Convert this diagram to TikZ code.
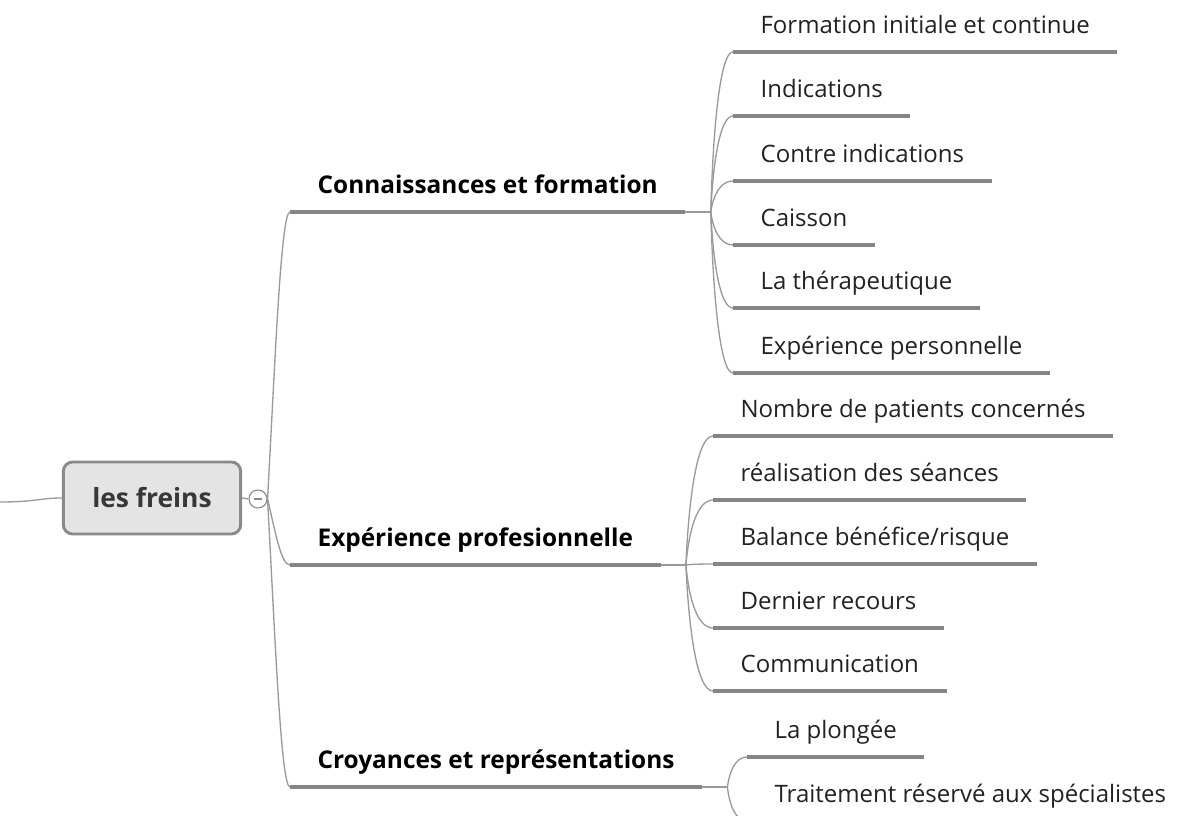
\documentclass[tikz,border=0pt]{standalone}
\usepackage{fontspec}
\setmainfont{Open Sans}
\usetikzlibrary{calc,positioning}
\definecolor{linegray}{HTML}{858585}
\definecolor{thingray}{HTML}{9A9A9A}
\definecolor{rootfill}{HTML}{E4E4E4}
\definecolor{rootdraw}{HTML}{8A8A8A}
\definecolor{inkgray}{HTML}{222222}
\tikzset{
  topic/.style={anchor=south west, inner xsep=20.5pt, inner ysep=13.5pt, text depth=0pt,
    text=inkgray, font=\fontsize{18}{20}\selectfont},
  branch/.style={topic, text=black, font=\fontsize{18.3}{20}\selectfont\bfseries},
  ul/.style={draw=linegray, line width=3.5pt},
  con/.style={draw=thingray, line width=1pt},
  % #1, #2: share of the x step taken by the two control points
  forkcurve/.style 2 args={to path={let \p1=(\tikztostart), \p2=(\tikztotarget) in
    .. controls ({(1-#1)*\x1+#1*\x2}, 0.5*\y1+0.5*\y2) and ({(1-#2)*\x1+#2*\x2}, \y2) .. (\tikztotarget)}}
}
\begin{document}
\begin{tikzpicture}[x=0.75pt,y=-0.75pt]
  \clip (0,0) rectangle (1201,816);
  \fill[white] (0,0) rectangle (1201,816);
  % root and fold button
  \node[draw=rootdraw, fill=rootfill, line width=2.2pt, rounded corners=7pt,
        minimum width=133pt, minimum height=54pt, text=inkgray!90,
        font=\fontsize{19.8}{22}\selectfont\bfseries] (root) at (152,498) {les freins};
  \coordinate (in) at (0,502);
  \draw[con] (in) .. controls (35,502) and (40,498) .. (root.west);
  \node[draw=rootdraw, fill=white, circle, line width=0.8pt, minimum size=13.5pt, inner sep=0pt] (fold) at (258,499) {};
  \draw[rootdraw, line width=0.8pt] ([xshift=-3pt]fold.center) -- ([xshift=3pt]fold.center);
  \draw[con] (root.east) -- (fold.west);

  % main branches
  \node[branch] (b1) at (290,212) {Connaissances et formation};
  \node[branch] (b2) at (290,565) {Expérience profesionnelle};
  \node[branch] (b3) at (290,787) {Croyances et représentations};
  \foreach \br in {b1,b2,b3}
    \draw[con] (fold.east) to[forkcurve={0.35}{0.6}] (\br.south west);

  % Connaissances et formation
  \node[topic] (c1) at (733,52) {Formation initiale et continue};
  \node[topic] (c2) at (733,116) {Indications};
  \node[topic] (c3) at (733,181) {Contre indications};
  \node[topic] (c4) at (733,245) {Caisson};
  \node[topic] (c5) at (733,308) {La thérapeutique};
  \node[topic] (c6) at (733,373) {Expérience personnelle};
  \coordinate (k1) at ([xshift=19pt]b1.south east);
  \draw[con] (b1.south east) -- (k1);
  \foreach \leaf in {c1,c2,c3,c4,c5,c6}
    \draw[con] (k1) to[forkcurve={0.1}{0.4}] (\leaf.south west);

  % Expérience profesionnelle
  \node[topic] (e1) at (713,436) {Nombre de patients concernés};
  \node[topic] (e2) at (713,500) {réalisation des séances};
  \node[topic] (e3) at (713,564) {Balance bénéfice/risque};
  \node[topic] (e4) at (713,628) {Dernier recours};
  \node[topic] (e5) at (713,691) {Communication};
  \coordinate (k2) at ([xshift=19pt]b2.south east);
  \draw[con] (b2.south east) -- (k2);
  \foreach \leaf in {e1,e2,e3,e4,e5}
    \draw[con] (k2) to[forkcurve={0.1}{0.4}] (\leaf.south west);

  % Croyances et représentations
  \node[topic] (r1) at (747,757) {La plongée};
  \node[topic] (r2) at (747,821) {Traitement réservé aux spécialistes};
  \coordinate (k3) at ([xshift=19pt]b3.south east);
  \draw[con] (b3.south east) -- (k3);
  \foreach \leaf in {r1,r2}
    \draw[con] (k3) to[forkcurve={0.1}{0.4}] (\leaf.south west);

  % underlines
  \foreach \leaf in {b1,b2,b3,c1,c2,c3,c4,c5,c6,e1,e2,e3,e4,e5,r1,r2}
    \draw[ul] (\leaf.south west) -- (\leaf.south east);
\end{tikzpicture}
\end{document}
